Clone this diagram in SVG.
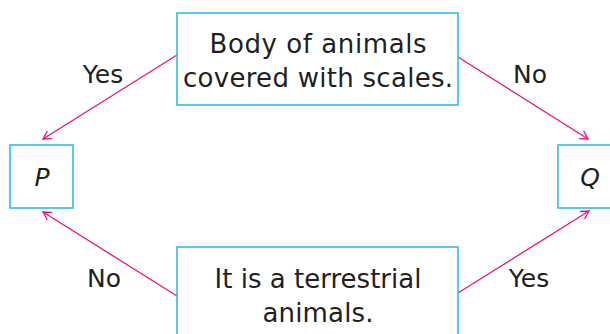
<svg xmlns="http://www.w3.org/2000/svg" width="610" height="334" viewBox="0 0 610 334">
<style>
.box{fill:#fff;stroke:#29b6ea;stroke-width:1.5}
.t{font-family:"DejaVu Sans","Liberation Sans",sans-serif;font-size:25px;fill:#231f20;text-anchor:middle}
.m{font-size:26px}
.it{font-style:italic}
.c{stroke:#e8157f;stroke-width:1.3;fill:none;marker-end:url(#ah)}
</style>
<defs>
<marker id="ah" markerUnits="userSpaceOnUse" markerWidth="14" markerHeight="14" refX="0" refY="0" viewBox="-10 -7 14 14" orient="auto" overflow="visible">
<path d="M-8,-4.5 L0,0 L-8,4.5" fill="none" stroke="#e8157f" stroke-width="1.3"/>
</marker>
</defs>
<rect width="610" height="334" fill="#fff"/>
<g id="connectors">
<line class="c" x1="177" y1="55" x2="43" y2="139"/>
<line class="c" x1="458" y1="57" x2="588" y2="139"/>
<line class="c" x1="177" y1="296" x2="43" y2="212"/>
<line class="c" x1="458" y1="293" x2="589" y2="211"/>
<text class="t" x="103" y="83">Yes</text>
<text class="t" x="530" y="83">No</text>
<text class="t" x="104" y="287">No</text>
<text class="t" x="529" y="287">Yes</text>
</g>
<g id="top">
<rect class="box" x="177" y="13" width="281" height="92"/>
<text class="t m" x="318" y="53" textLength="217">Body of animals</text>
<text class="t m" x="318" y="87" textLength="270">covered with scales.</text>
</g>
<g id="bottom">
<rect class="box" x="177" y="247" width="281" height="100"/>
<text class="t m" x="318" y="288" textLength="207">It is a terrestrial</text>
<text class="t m" x="318" y="322" textLength="111">animals.</text>
</g>
<g id="P">
<rect class="box" x="10" y="145" width="63" height="63"/>
<text class="t it" x="42" y="186">P</text>
</g>
<g id="Q">
<rect class="box" x="558" y="145" width="60" height="63"/>
<text class="t it" x="590" y="186">Q</text>
</g>
</svg>
